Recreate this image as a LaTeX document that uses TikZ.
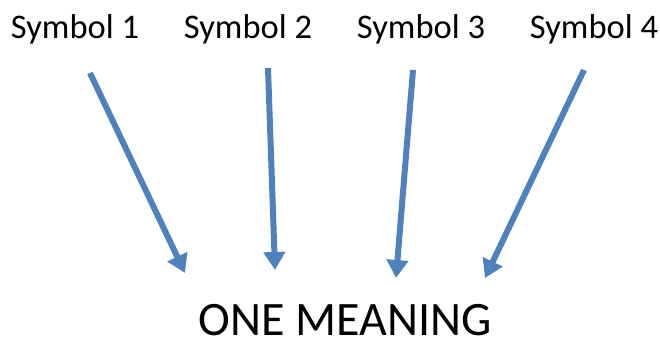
\documentclass[tikz,border=0pt]{standalone}
\usepackage{fontspec}
\setmainfont{Carlito}
\usetikzlibrary{arrows.meta}
\definecolor{arrowblue}{HTML}{4F81BD}
\begin{document}
\begin{tikzpicture}[x=1pt,y=1pt,
  sym/.style={font=\fontsize{34.5}{38}\selectfont, inner sep=0pt, anchor=base},
  ptr/.style={arrowblue, line width=6pt, -{Triangle[width=21pt,length=18pt]}, shorten >=0pt}]
\useasboundingbox (0,0) rectangle (660,347);
\node[sym] (s1) at (75,308) {Symbol 1};
\node[sym] (s2) at (248,308) {Symbol 2};
\node[sym] (s3) at (421,308) {Symbol 3};
\node[sym] (s4) at (594,308) {Symbol 4};
\node[font=\fontsize{48}{52}\selectfont, inner sep=0pt, anchor=base] (m) at (345,11) {ONE MEANING};
\coordinate (a1) at (90,274);
\coordinate (b1) at (185,74);
\coordinate (a2) at (268,279);
\coordinate (b2) at (275,77);
\coordinate (a3) at (413,277);
\coordinate (b3) at (396,69);
\coordinate (a4) at (584,277);
\coordinate (b4) at (485,69);
\draw[ptr] (a1) -- (b1);
\draw[ptr] (a2) -- (b2);
\draw[ptr] (a3) -- (b3);
\draw[ptr] (a4) -- (b4);
\end{tikzpicture}
\end{document}
